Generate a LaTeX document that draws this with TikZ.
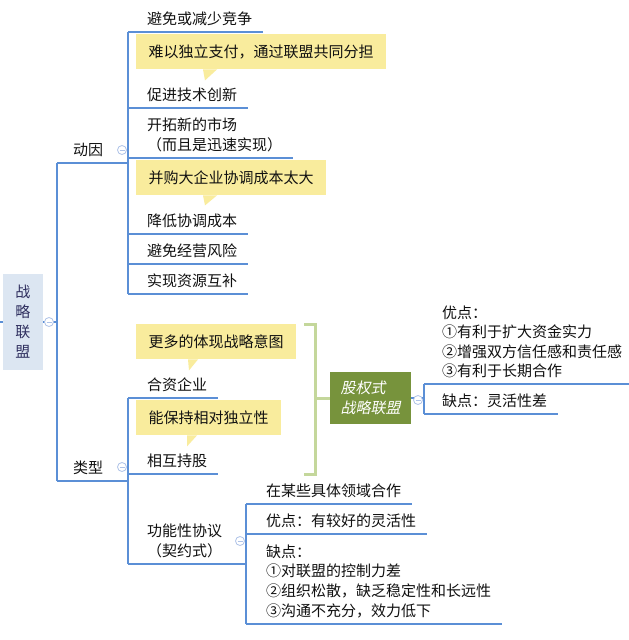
\documentclass[tikz,border=0pt]{standalone}
\usepackage{fontspec}
\setmainfont{Noto Sans CJK SC}
\newfontfamily\cjkslant{Noto Sans CJK SC}[FakeSlant=0.2]
\usepackage{xcolor}
\usepackage{tikz}
\usetikzlibrary{positioning,calc}
\definecolor{LineBlue}{HTML}{5B8FD6}
\definecolor{FoldBlue}{HTML}{AFC3E8}
\definecolor{NoteYellow}{HTML}{F9EC9D}
\definecolor{RootFill}{HTML}{DCE6F2}
\definecolor{RootText}{HTML}{2F2F5F}
\definecolor{SumGreen}{HTML}{C4D79B}
\definecolor{NodeGreen}{HTML}{77933C}
\definecolor{InkGray}{HTML}{111111}
\tikzset{
  topic/.style={anchor=south west,inner xsep=11pt,inner ysep=6pt,align=left,text=InkGray,
              font=\fontsize{15pt}{19.6pt}\selectfont},
  note/.style={anchor=north west,fill=NoteYellow,inner xsep=12.5pt,inner ysep=0pt,
              minimum height=35pt,text=InkGray,font=\fontsize{15pt}{19.6pt}\selectfont},
  rootbox/.style={fill=RootFill,minimum width=40pt,minimum height=96pt,align=center,
              text=RootText,font=\fontsize{15pt}{20pt}\selectfont},
  greenbox/.style={fill=NodeGreen,minimum width=81pt,minimum height=52pt,align=left,
              inner xsep=10pt,text=white,font=\cjkslant\fontsize{15pt}{20pt}\selectfont},
  branch/.style={draw=LineBlue,line width=1.2pt},
  summary/.style={draw=SumGreen,line width=3pt,line join=miter},
  fold/.style={circle,draw=FoldBlue,fill=white,line width=0.8pt,minimum size=9pt,inner sep=0pt,
              path picture={\draw[FoldBlue,line width=0.8pt]
                ([xshift=-2.5pt]path picture bounding box.center) --
                ([xshift=2.5pt]path picture bounding box.center);}}
}

\begin{document}
\begin{tikzpicture}[x=1pt,y=-1pt]
  \fill[white] (0,0) rectangle (629,640);
  \useasboundingbox (0,0) rectangle (629,640);

  % branch columns
  \coordinate (edge) at (0,322);
  \coordinate (trunk) at (57,0);
  \coordinate (dyx) at (128,0);
  \coordinate (gnx) at (246,0);
  \coordinate (gqx) at (424,0);
  \coordinate (brk) at (315,0);

  \node[rootbox] (root) at (23,322) {战\\略\\联\\盟};
  \node[topic] (dongyin) at (62,163) {动因};
  \node[topic] (leixing) at (62,481) {类型};

  % motives
  \node[topic] (jz) at (136,32) {避免或减少竞争};
  \node[topic] (js) at (136,108) {促进技术创新};
  \node[topic] (sc) at (136,158) {开拓新的市场\\（而且是迅速实现）};
  \node[topic] (xt) at (136,234) {降低协调成本};
  \node[topic] (fx) at (136,264) {避免经营风险};
  \node[topic] (hb) at (136,294) {实现资源互补};
  \node[note] (nzf) at (136,34) {难以独立支付，通过联盟共同分担};
  \node[note] (nbg) at (136,160) {并购大企业协调成本太大};

  % types
  \node[topic] (hz) at (136,398) {合资企业};
  \node[topic] (cg) at (136,474) {相互持股};
  \node[topic,align=center] (gn) at (136,564) {功能性协议\\（契约式）};
  \node[note] (nzl) at (136,324) {更多的体现战略意图};
  \node[note] (ndl) at (136,400) {能保持相对独立性};

  \node[topic] (ly) at (255,504) {在某些具体领域合作};
  \node[topic] (gny) at (255,534) {优点：有较好的灵活性};
  \node[topic,font=\fontsize{15pt}{19.7pt}\selectfont] (gnq) at (255,624)
    {缺点：\\①对联盟的控制力差\\②组织松散，缺乏稳定性和长远性\\③沟通不充分，效力低下};

  \node[greenbox,anchor=west] (gq) at (330,398) {股权式\\战略联盟};
  \node[topic,font=\fontsize{15pt}{19.5pt}\selectfont] (gqy) at (431,384)
    {优点：\\①有利于扩大资金实力\\②增强双方信任感和责任感\\③有利于长期合作};
  \node[topic] (gqq) at (431,414) {缺点：灵活性差};

  % callout tips
  \fill[NoteYellow] ([xshift=67pt]nzf.south west) -- ([xshift=81pt]nzf.south west)
    -- ([xshift=69pt,yshift=-11pt]nzf.south west) -- cycle;
  \fill[NoteYellow] ([xshift=67pt]nbg.south west) -- ([xshift=81pt]nbg.south west)
    -- ([xshift=69pt,yshift=-10pt]nbg.south west) -- cycle;
  \fill[NoteYellow] ([xshift=52pt]nzl.south west) -- ([xshift=62pt]nzl.south west)
    -- ([xshift=53pt,yshift=-11pt]nzl.south west) -- cycle;
  \fill[NoteYellow] ([xshift=51pt]ndl.south west) -- ([xshift=61pt]ndl.south west)
    -- ([xshift=51pt,yshift=-11pt]ndl.south west) -- cycle;

  % connectors
  \draw[branch] (edge) -- (root.west);
  \draw[branch] (root.east) -- (trunk |- root.east);
  \draw[branch] (trunk |- dongyin.south) -- (trunk |- leixing.south);
  \draw[branch] (trunk |- dongyin.south) -- (dyx |- dongyin.south);
  \draw[branch] (trunk |- leixing.south) -- (dyx |- leixing.south);
  \draw[branch] (dyx |- jz.south) -- (dyx |- hb.south);
  \foreach \t in {jz,js,sc,xt,fx,hb}
    \draw[branch] (dyx |- \t.south) -- (\t.south east);
  \draw[branch] (dyx |- hz.south) -- (dyx |- gn.south);
  \draw[branch] (dyx |- hz.south) -- (hz.south east);
  \draw[branch] (dyx |- cg.south) -- (cg.south east);
  \draw[branch] (dyx |- gn.south) -- (gnx |- gn.south);
  \draw[branch] (gnx |- ly.south) -- (gnx |- gnq.south);
  \foreach \t in {ly,gny,gnq}
    \draw[branch] (gnx |- \t.south) -- (\t.south east);
  \draw[branch] (gq.east) -- (gqx |- gq.east);
  \draw[branch] (gqx |- gqy.south) -- (gqx |- gqq.south);
  \foreach \t in {gqy,gqq}
    \draw[branch] (gqx |- \t.south) -- (\t.south east);

  % summary bracket
  \draw[summary] (brk |- nzl.north) ++(-11,0) -- ++(11,0) -- (brk |- cg.south) -- ++(-11,0);
  \draw[summary] (brk |- gq.west) -- (gq.west);

  \node[fold] (frt) at (49,322) {};
  \node[fold] (fdy) at (122,150) {};
  \node[fold] (flx) at (122,467) {};
  \node[fold] (fgn) at (240,541) {};
  \node[fold] (fgq) at (418,400) {};
\end{tikzpicture}
\end{document}
